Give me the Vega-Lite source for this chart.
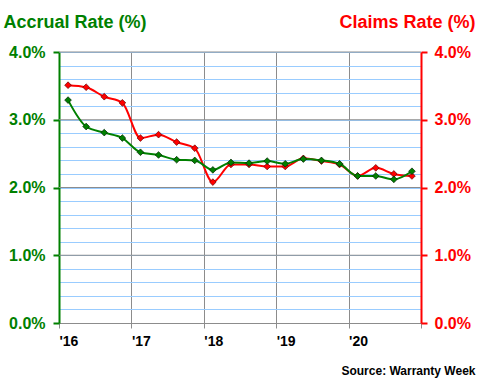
{
  "$schema": "https://vega.github.io/schema/vega-lite/v6.json",
  "autosize": "none",
  "width": 362,
  "height": 271,
  "padding": {"left": 59, "top": 52, "right": 59, "bottom": 57},
  "background": "white",
  "config": {
    "view": {"stroke": null},
    "font": "Liberation Sans"
  },
  "datasets": {
    "rates": [
      {"q": 0.5, "accrual": 3.29, "claims": 3.51},
      {"q": 1.5, "accrual": 2.90, "claims": 3.48},
      {"q": 2.5, "accrual": 2.81, "claims": 3.34},
      {"q": 3.5, "accrual": 2.73, "claims": 3.25},
      {"q": 4.5, "accrual": 2.52, "claims": 2.73},
      {"q": 5.5, "accrual": 2.48, "claims": 2.78},
      {"q": 6.5, "accrual": 2.41, "claims": 2.67},
      {"q": 7.5, "accrual": 2.40, "claims": 2.58},
      {"q": 8.5, "accrual": 2.26, "claims": 2.08},
      {"q": 9.5, "accrual": 2.37, "claims": 2.34},
      {"q": 10.5, "accrual": 2.36, "claims": 2.34},
      {"q": 11.5, "accrual": 2.39, "claims": 2.31},
      {"q": 12.5, "accrual": 2.35, "claims": 2.31},
      {"q": 13.5, "accrual": 2.42, "claims": 2.43},
      {"q": 14.5, "accrual": 2.40, "claims": 2.39},
      {"q": 15.5, "accrual": 2.35, "claims": 2.34},
      {"q": 16.5, "accrual": 2.17, "claims": 2.17},
      {"q": 17.5, "accrual": 2.17, "claims": 2.29},
      {"q": 18.5, "accrual": 2.12, "claims": 2.20},
      {"q": 19.5, "accrual": 2.24, "claims": 2.17}
    ],
    "majorGrid": [{"g": 1}, {"g": 2}, {"g": 3}, {"g": 4}]
  },
  "layer": [
    {
      "data": {"name": "majorGrid"},
      "mark": {"type": "rule", "color": "#8c8c8c", "strokeWidth": 1},
      "encoding": {
        "y": {"field": "g", "type": "quantitative", "scale": {"domain": [0, 4], "nice": false}, "axis": null}
      }
    },
    {
      "data": {"name": "rates"},
      "encoding": {
        "x": {
          "field": "q", "type": "quantitative",
          "scale": {"domain": [0, 20], "nice": false, "zero": false},
          "axis": {
            "values": [0, 4, 8, 12, 16, 20],
            "grid": true, "gridColor": "#8c8c8c", "gridWidth": 1,
            "domainColor": "#8c8c8c", "tickColor": "#8c8c8c", "tickSize": 5,
            "labelExpr": "datum.value == 0 ? \"'16\" : datum.value == 4 ? \"'17\" : datum.value == 8 ? \"'18\" : datum.value == 12 ? \"'19\" : datum.value == 16 ? \"'20\" : ''",
            "labelAlign": "left", "labelBaseline": "top", "labelDx": 2, "labelPadding": 6,
            "labelFontSize": 14, "labelFontWeight": "bold", "labelColor": "#000000",
            "labelFlush": false, "labelOverlap": false,
            "title": "Source: Warranty Week",
            "titleX": 416, "titleY": 51, "titleAlign": "right", "titleBaseline": "alphabetic",
            "titleFontSize": 12, "titleFontWeight": "bold", "titleColor": "#000000"
          }
        },
        "y": {
          "field": "claims", "type": "quantitative",
          "scale": {"domain": [0, 4], "nice": false},
          "axis": {
            "orient": "right",
            "values": [0, 0.2, 0.4, 0.6, 0.8, 1, 1.2, 1.4, 1.6, 1.8, 2, 2.2, 2.4, 2.6, 2.8, 3, 3.2, 3.4, 3.6, 3.8, 4],
            "grid": true, "gridColor": "#99CCFF", "gridWidth": 1,
            "domainColor": "#FF0000", "domainWidth": 2,
            "tickColor": "#FF0000", "tickWidth": 2, "tickSize": 6,
            "tickOpacity": {"condition": {"test": "indexof([0,1,2,3,4], datum.value) >= 0", "value": 1}, "value": 0},
            "labelColor": "#FF0000", "labelFontSize": 16, "labelFontWeight": "bold", "labelPadding": 7,
            "labelExpr": "indexof([0,1,2,3,4], datum.value) >= 0 ? format(datum.value,'.1f')+'%' : ''",
            "labelOverlap": false, "labelFlush": false,
            "title": "Claims Rate (%)",
            "titleAngle": 0, "titleAlign": "right", "titleBaseline": "alphabetic",
            "titleX": 54, "titleY": -25,
            "titleFontSize": 18, "titleFontWeight": "bold", "titleColor": "#FF0000"
          }
        }
      },
      "layer": [
        {"mark": {"type": "line", "color": "#FF0000", "strokeWidth": 2, "interpolate": "monotone"}},
        {"mark": {"type": "point", "shape": "diamond", "filled": true, "fill": "#FF0000", "stroke": "#600000", "strokeWidth": 0.7, "size": 45, "opacity": 1}}
      ]
    },
    {
      "data": {"name": "rates"},
      "encoding": {
        "x": {
          "field": "q", "type": "quantitative",
          "scale": {"domain": [0, 20], "nice": false, "zero": false}
        },
        "y": {
          "field": "accrual", "type": "quantitative",
          "scale": {"domain": [0, 4], "nice": false},
          "axis": {
            "orient": "left",
            "values": [0, 1, 2, 3, 4],
            "grid": false,
            "domainColor": "#008000", "domainWidth": 2,
            "tickColor": "#008000", "tickWidth": 2, "tickSize": 6,
            "labelColor": "#008000", "labelFontSize": 16, "labelFontWeight": "bold", "labelPadding": 8,
            "labelExpr": "format(datum.value,'.1f')+'%'",
            "labelOverlap": false, "labelFlush": false,
            "title": "Accrual Rate (%)",
            "titleAngle": 0, "titleAlign": "left", "titleBaseline": "alphabetic",
            "titleX": -56, "titleY": -25,
            "titleFontSize": 18, "titleFontWeight": "bold", "titleColor": "#008000"
          }
        }
      },
      "layer": [
        {"mark": {"type": "line", "color": "#008000", "strokeWidth": 2, "interpolate": "monotone"}},
        {"mark": {"type": "point", "shape": "diamond", "filled": true, "fill": "#008000", "stroke": "#002000", "strokeWidth": 0.7, "size": 45, "opacity": 1}}
      ]
    }
  ],
  "resolve": {"scale": {"y": "independent"}, "axis": {"y": "independent"}}
}
